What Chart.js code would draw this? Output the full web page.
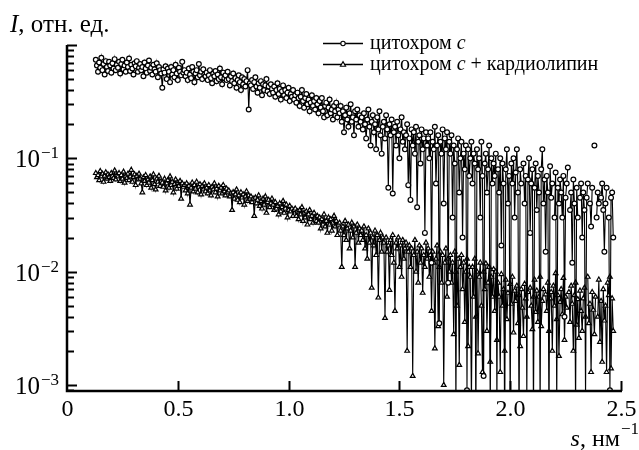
<!DOCTYPE html>
<html>
<head>
<meta charset="utf-8">
<script src="https://cdn.jsdelivr.net/npm/chart.js@4.4.1/dist/chart.umd.min.js"></script>
<style>
  html, body { margin: 0; padding: 0; background: #fff; }
</style>
</head>
<body>
<canvas id="saxsChart" width="639" height="450"></canvas>
<script>
// s grid, nm^-1 (measured from 0.13 with 0.005 step)
const sStart = 0.13;
const sStep = 0.005;

// cytochrome c, rel. units
const cytC = [
  0.74, 0.66, 0.58, 0.70, 0.63, 0.77, 0.60, 0.68, 0.55, 0.72,
  0.64, 0.59, 0.71, 0.66, 0.57, 0.69, 0.62, 0.75, 0.60, 0.67,
  0.63, 0.71, 0.56, 0.68, 0.74, 0.61, 0.66, 0.58, 0.70, 0.64,
  0.76, 0.59, 0.67, 0.62, 0.55, 0.69, 0.65, 0.72, 0.58, 0.63,
  0.68, 0.60, 0.64, 0.53, 0.70, 0.62, 0.57, 0.66, 0.73, 0.59,
  0.63, 0.55, 0.67, 0.61, 0.58, 0.69, 0.52, 0.64, 0.60, 0.56,
  0.42, 0.61, 0.57, 0.65, 0.50, 0.62, 0.58, 0.47, 0.64, 0.55,
  0.60, 0.52, 0.67, 0.56, 0.49, 0.63, 0.58, 0.54, 0.71, 0.57,
  0.60, 0.53, 0.57, 0.49, 0.62, 0.55, 0.51, 0.64, 0.58, 0.47,
  0.56, 0.60, 0.52, 0.68, 0.54, 0.58, 0.50, 0.61, 0.55, 0.53,
  0.57, 0.49, 0.54, 0.60, 0.51, 0.46, 0.56, 0.53, 0.59, 0.48,
  0.55, 0.50, 0.62, 0.52, 0.45, 0.57, 0.51, 0.54, 0.49, 0.58,
  0.50, 0.44, 0.53, 0.48, 0.56, 0.46, 0.51, 0.42, 0.49, 0.54,
  0.47, 0.40, 0.52, 0.45, 0.50, 0.43, 0.48, 0.60, 0.27, 0.46,
  0.44, 0.49, 0.41, 0.47, 0.52, 0.43, 0.38, 0.46, 0.42, 0.48,
  0.36, 0.45, 0.40, 0.44, 0.50, 0.39, 0.43, 0.37, 0.45, 0.41,
  0.38, 0.43, 0.35, 0.40, 0.46, 0.37, 0.41, 0.33, 0.39, 0.44,
  0.36, 0.40, 0.34, 0.38, 0.42, 0.32, 0.37, 0.35, 0.40, 0.33,
  0.36, 0.31, 0.38, 0.34, 0.29, 0.35, 0.40, 0.32, 0.28, 0.34,
  0.37, 0.30, 0.33, 0.26, 0.31, 0.36, 0.29, 0.32, 0.27, 0.34,
  0.30, 0.25, 0.32, 0.28, 0.34, 0.26, 0.23, 0.29, 0.31, 0.24,
  0.28, 0.33, 0.25, 0.27, 0.22, 0.29, 0.26, 0.31, 0.23, 0.27,
  0.25, 0.29, 0.21, 0.26, 0.17, 0.24, 0.28, 0.22, 0.19, 0.25,
  0.30, 0.21, 0.23, 0.16, 0.26, 0.22, 0.27, 0.19, 0.24, 0.21,
  0.23, 0.18, 0.25, 0.20, 0.15, 0.22, 0.27, 0.19, 0.13, 0.21,
  0.24, 0.17, 0.20, 0.12, 0.23, 0.18, 0.26, 0.16, 0.11, 0.19,
  0.21, 0.15, 0.24, 0.18, 0.055, 0.20, 0.16, 0.22, 0.049, 0.17,
  0.19, 0.13, 0.21, 0.16, 0.10, 0.18, 0.23, 0.14, 0.17, 0.12,
  0.16, 0.20, 0.058, 0.15, 0.043, 0.18, 0.13, 0.17, 0.11, 0.19,
  0.037, 0.14, 0.16, 0.09, 0.18, 0.12, 0.15, 0.022, 0.17, 0.13,
  0.15, 0.10, 0.17, 0.012, 0.14, 0.12, 0.19, 0.06, 0.13, 0.16,
  0.0035, 0.14, 0.11, 0.18, 0.04, 0.15, 0.12, 0.17, 0.008, 0.14,
  0.11, 0.16, 0.03, 0.13, 0.09, 0.0006, 0.12, 0.15, 0.05, 0.10,
  0.14, 0.02, 0.11, 0.08, 0.13, 0.0009, 0.12, 0.07, 0.10, 0.14,
  0.06, 0.11, 0.09, 0.0004, 0.12, 0.08, 0.10, 0.03, 0.14, 0.07,
  0.0012, 0.09, 0.11, 0.05, 0.08, 0.13, 0.0005, 0.10, 0.06, 0.09,
  0.07, 0.11, 0.0007, 0.08, 0.05, 0.10, 0.017, 0.09, 0.06, 0.0003,
  0.08, 0.12, 0.04, 0.07, 0.0006, 0.09, 0.06, 0.10, 0.03, 0.075,
  0.12, 0.05, 0.0004, 0.08, 0.06, null, 0.09, 0.04, 0.07, 0.0008,
  0.065, 0.10, 0.022, 0.06, 0.08, 0.0005, 0.055, 0.09, 0.035, 0.07,
  0.05, 0.0006, 0.08, 0.12, 0.04, 0.065, 0.015, 0.07, 0.05, 0.0004,
  0.085, 0.045, 0.06, null, 0.03, 0.075, 0.0007, 0.055, 0.04, 0.065,
  0.05, 0.03, 0.07, 0.004, 0.045, 0.06, 0.083, null, 0.035, 0.05,
  0.012, 0.065, 0.04, 0.0006, 0.055, 0.03, null, 0.045, 0.06, 0.02,
  0.05, 0.035, 0.0008, 0.045, 0.06, null, 0.04, 0.025, 0.055, null,
  0.13, null, 0.03, 0.05, 0.04, null, 0.045, 0.06, 0.035, 0.015,
  0.04, 0.055, null, 0.03, 0.0009, 0.045, 0.05, 0.02
];

// cytochrome c + cardiolipin, rel. units
const cytCCard = [
  0.074, 0.068, 0.071, 0.064, 0.077, 0.069, 0.073, 0.062, 0.070, 0.075,
  0.066, 0.072, 0.068, 0.063, 0.074, 0.070, 0.067, 0.078, 0.065, 0.071,
  0.069, 0.074, 0.063, 0.071, 0.066, 0.076, 0.061, 0.070, 0.067, 0.073,
  0.064, 0.069, 0.079, 0.062, 0.068, 0.072, 0.058, 0.070, 0.065, 0.073,
  0.066, 0.060, 0.050, 0.068, 0.063, 0.071, 0.058, 0.065, 0.061, 0.069,
  0.055, 0.064, 0.072, 0.059, 0.053, 0.066, 0.062, 0.070, 0.057, 0.063,
  0.061, 0.056, 0.066, 0.052, 0.060, 0.064, 0.055, 0.069, 0.058, 0.062,
  0.050, 0.059, 0.065, 0.054, 0.061, 0.057, 0.063, 0.044, 0.060, 0.056,
  0.058, 0.052, 0.060, 0.049, 0.057, 0.039, 0.055, 0.061, 0.051, 0.058,
  0.054, 0.062, 0.050, 0.056, 0.059, 0.048, 0.057, 0.053, 0.060, 0.051,
  0.055, 0.049, 0.058, 0.052, 0.047, 0.056, 0.053, 0.060, 0.050, 0.054,
  0.046, 0.057, 0.052, 0.055, 0.049, 0.058, 0.051, 0.047, 0.054, 0.050,
  0.052, 0.046, 0.049, 0.035, 0.050, 0.044, 0.048, 0.053, 0.043, 0.047,
  0.041, 0.050, 0.045, 0.048, 0.039, 0.046, 0.051, 0.042, 0.047, 0.044,
  0.046, 0.041, 0.044, 0.031, 0.045, 0.040, 0.043, 0.047, 0.038, 0.042,
  0.036, 0.044, 0.039, 0.046, 0.033, 0.041, 0.043, 0.037, 0.040, 0.044,
  0.039, 0.035, 0.041, 0.036, 0.038, 0.032, 0.040, 0.034, 0.037, 0.042,
  0.033, 0.036, 0.039, 0.030, 0.035, 0.038, 0.034, 0.036, 0.031, 0.035,
  0.036, 0.031, 0.034, 0.029, 0.035, 0.032, 0.037, 0.028, 0.033, 0.030,
  0.034, 0.026, 0.032, 0.035, 0.029, 0.031, 0.027, 0.033, 0.030, 0.028,
  0.031, 0.027, 0.030, 0.024, 0.029, 0.026, 0.032, 0.025, 0.028, 0.022,
  0.030, 0.026, 0.029, 0.023, 0.027, 0.031, 0.025, 0.028, 0.021, 0.026,
  0.027, 0.023, 0.011, 0.025, 0.021, 0.028, 0.019, 0.024, 0.026, 0.016,
  0.023, 0.027, 0.020, 0.025, 0.011, 0.022, 0.026, 0.018, 0.024, 0.021,
  0.023, 0.019, 0.025, 0.016, 0.021, 0.013, 0.024, 0.018, 0.022, 0.0072,
  0.020, 0.017, 0.023, 0.014, 0.021, 0.0059, 0.019, 0.022, 0.015, 0.020,
  0.018, 0.0039, 0.020, 0.015, 0.017, 0.0069, 0.019, 0.014, 0.021, 0.012,
  0.0045, 0.018, 0.016, 0.020, 0.011, 0.017, 0.009, 0.019, 0.013, 0.016,
  0.018, 0.0020, 0.015, 0.017, 0.011, 0.016, 0.0012, 0.014, 0.019, 0.010,
  0.015, 0.008, 0.017, 0.012, 0.016, 0.0065, 0.014, 0.011, 0.018, 0.013,
  0.016, 0.009, 0.014, 0.0045, 0.015, 0.012, 0.0021, 0.013, 0.017, 0.0033,
  0.011, 0.015, 0.008, 0.014, 0.0010, 0.012, 0.016, 0.006, 0.013, 0.010,
  0.014, 0.008, 0.012, 0.0028, 0.015, 0.010, 0.0050, 0.013, 0.0015, 0.011,
  0.014, 0.007, 0.012, 0.0036, 0.010, 0.013, 0.0022, 0.011, 0.009, 0.0007,
  0.011, 0.006, 0.013, 0.0040, 0.010, 0.0019, 0.009, 0.012, 0.005, 0.0013,
  0.010, 0.007, 0.0118, 0.0030, 0.008, 0.011, 0.0016, 0.009, 0.006, 0.0105,
  0.0045, 0.010, 0.0025, 0.008, 0.0060, 0.0013, 0.0095, 0.005, 0.0070, 0.0020,
  0.0085, 0.0038, 0.0065, null, 0.0078, 0.0052, 0.0090, 0.0029, 0.0068, 0.0055,
  0.0075, 0.0035, 0.0062, 0.0022, 0.0070, 0.0048, 0.0027, 0.0078, 0.0058, 0.0040,
  0.0066, null, 0.0072, 0.0050, 0.0031, 0.0060, 0.0085, 0.0044, 0.0068, 0.0036,
  0.0060, 0.0090, 0.0033, 0.0055, 0.0070, null, 0.0063, 0.0045, 0.0080, 0.0030,
  0.0058, 0.0066, 0.0020, 0.0075, 0.0050, 0.0097, 0.0038, 0.0062, 0.0018, 0.0054,
  0.0070, 0.0042, 0.0088, 0.0025, 0.0060, 0.0048, null, 0.0066, 0.0036, 0.0075,
  0.0052, 0.0020, 0.0062, 0.0080, 0.0034, 0.0057, 0.0026, 0.0068, 0.0045, 0.0030,
  0.0058, 0.0072, 0.0040, null, 0.0090, 0.0035, 0.0052, 0.0013, 0.0066, 0.0046,
  0.0028, 0.0060, null, 0.0040, 0.0085, 0.0024, 0.0055, 0.0016, 0.0070, 0.0037,
  0.0050, 0.0013, 0.0080, 0.0062, 0.0090, 0.0014, 0.0058, 0.0030
];

// axis ticks
const xTicks = [0, 0.5, 1.0, 1.5, 2.0, 2.5];
const xTickLabels = ["0", "0.5", "1.0", "1.5", "2.0", "2.5"];
const yDecades = [-3, -2, -1];

const SERIF = '"Liberation Serif", "Times New Roman", serif';

function toPoints(vals) {
  return vals.map((v, i) => ({ x: +(sStart + i * sStep).toFixed(3), y: v }));
}

function drawCircle(ctx, x, y, r) {
  ctx.beginPath();
  ctx.arc(x, y, r, 0, Math.PI * 2);
  ctx.fill();
  ctx.stroke();
}

function drawTriangle(ctx, x, y, r) {
  ctx.beginPath();
  ctx.moveTo(x, y - r * 1.1);
  ctx.lineTo(x + r, y + r * 0.7);
  ctx.lineTo(x - r, y + r * 0.7);
  ctx.closePath();
  ctx.fill();
  ctx.stroke();
}

// axes, ticks, labels and legend drawn by hand (inward ticks, superscripts)
const frame = {
  id: "frame",
  afterDraw(chart) {
    const { ctx, chartArea: a, scales: { x, y } } = chart;
    ctx.save();
    ctx.strokeStyle = "#000";
    ctx.fillStyle = "#000";

    // axis lines
    ctx.lineWidth = 2.5;
    ctx.beginPath();
    ctx.moveTo(a.left, a.top);
    ctx.lineTo(a.left, a.bottom);
    ctx.lineTo(a.right + 1, a.bottom);
    ctx.stroke();

    // y ticks
    ctx.lineWidth = 2;
    for (let e = -4; e <= 0; e++) {
      for (let m = 1; m <= 9; m++) {
        const v = m * Math.pow(10, e);
        if (v < y.min || v > y.max * 1.0001) continue;
        const py = Math.round(y.getPixelForValue(v)) + 0.5;
        const len = m === 1 ? 10 : 7;
        ctx.beginPath();
        ctx.moveTo(a.left, py);
        ctx.lineTo(a.left + len, py);
        ctx.stroke();
      }
    }

    // y labels 10^n
    ctx.textBaseline = "alphabetic";
    ctx.textAlign = "left";
    yDecades.forEach(e => {
      const py = y.getPixelForValue(Math.pow(10, e));
      const base = "10";
      const sup = "\u2212" + Math.abs(e);
      ctx.font = "25px " + SERIF;
      const bw = ctx.measureText(base).width;
      ctx.font = "17px " + SERIF;
      const sw = ctx.measureText(sup).width;
      const x0 = 58 - sw - bw;
      ctx.font = "25px " + SERIF;
      ctx.fillText(base, x0, py + 9);
      ctx.font = "17px " + SERIF;
      ctx.fillText(sup, x0 + bw + 1, py);
    });

    // x ticks and labels
    ctx.lineWidth = 2;
    ctx.textAlign = "center";
    ctx.font = "24px " + SERIF;
    xTicks.forEach((t, i) => {
      const px = Math.round(x.getPixelForValue(t)) + 0.5;
      if (t > 0) {
        ctx.beginPath();
        ctx.moveTo(px, a.bottom);
        ctx.lineTo(px, a.bottom - 10);
        ctx.stroke();
      }
      ctx.fillText(xTickLabels[i], px, 416);
    });

    // y title: I, отн. ед.
    ctx.textAlign = "left";
    ctx.font = "italic 25px " + SERIF;
    ctx.fillText("I", 10, 32);
    let w = ctx.measureText("I").width;
    ctx.font = "25px " + SERIF;
    ctx.fillText(", отн. ед.", 10 + w, 32);

    // x title: s, нм^-1
    ctx.font = "17px " + SERIF;
    const supW = ctx.measureText("\u22121").width;
    ctx.font = "24px " + SERIF;
    const restW = ctx.measureText(", нм").width;
    ctx.font = "italic 24px " + SERIF;
    const sW = ctx.measureText("s").width;
    let xs = 638 - supW - restW - sW;
    ctx.fillText("s", xs, 446);
    ctx.font = "24px " + SERIF;
    ctx.fillText(", нм", xs + sW, 446);
    ctx.font = "17px " + SERIF;
    ctx.fillText("\u22121", xs + sW + restW + 1, 434);

    // legend
    const rows = [
      { y: 43, marker: "circle", parts: [["цитохром ", false], ["c", true]] },
      { y: 64, marker: "triangle", parts: [["цитохром ", false], ["c", true], [" + кардиолипин", false]] }
    ];
    rows.forEach(r => {
      ctx.lineWidth = 1.3;
      ctx.strokeStyle = "#000";
      ctx.beginPath();
      ctx.moveTo(323, r.y + 0.5);
      ctx.lineTo(363, r.y + 0.5);
      ctx.stroke();
      ctx.fillStyle = "#fff";
      ctx.lineWidth = 1.1;
      if (r.marker === "circle") drawCircle(ctx, 343, r.y + 0.5, 2.2);
      else drawTriangle(ctx, 343, r.y + 0.5, 2.6);
      ctx.fillStyle = "#000";
      ctx.textBaseline = "middle";
      let tx = 370;
      r.parts.forEach(([txt, it]) => {
        ctx.font = (it ? "italic " : "") + "20px " + SERIF;
        ctx.fillText(txt, tx, r.y + 1);
        tx += ctx.measureText(txt).width;
      });
    });
    ctx.restore();
  }
};

const ctx = document.getElementById("saxsChart").getContext("2d");

new Chart(ctx, {
  type: "line",
  data: {
    datasets: [
      {
        label: "цитохром c",
        data: toPoints(cytC),
        borderColor: "#000",
        borderWidth: 1.1,
        pointStyle: "circle",
        pointRadius: 2.4,
        pointBorderWidth: 1.2,
        pointBackgroundColor: "#fff",
        pointBorderColor: "#000",
        spanGaps: false,
        tension: 0
      },
      {
        label: "цитохром c + кардиолипин",
        data: toPoints(cytCCard),
        borderColor: "#000",
        borderWidth: 1.1,
        pointStyle: "triangle",
        pointRadius: 2.7,
        pointBorderWidth: 1.2,
        pointBackgroundColor: "#fff",
        pointBorderColor: "#000",
        spanGaps: false,
        tension: 0
      }
    ]
  },
  options: {
    responsive: false,
    animation: false,
    layout: { padding: { left: 67, top: 45, right: 18, bottom: 59 } },
    plugins: {
      legend: { display: false },
      tooltip: { enabled: false }
    },
    scales: {
      x: { type: "linear", min: 0, max: 2.5, display: false },
      y: { type: "logarithmic", min: 0.000886, max: 1, display: false }
    }
  },
  plugins: [frame]
});
</script>
</body>
</html>
